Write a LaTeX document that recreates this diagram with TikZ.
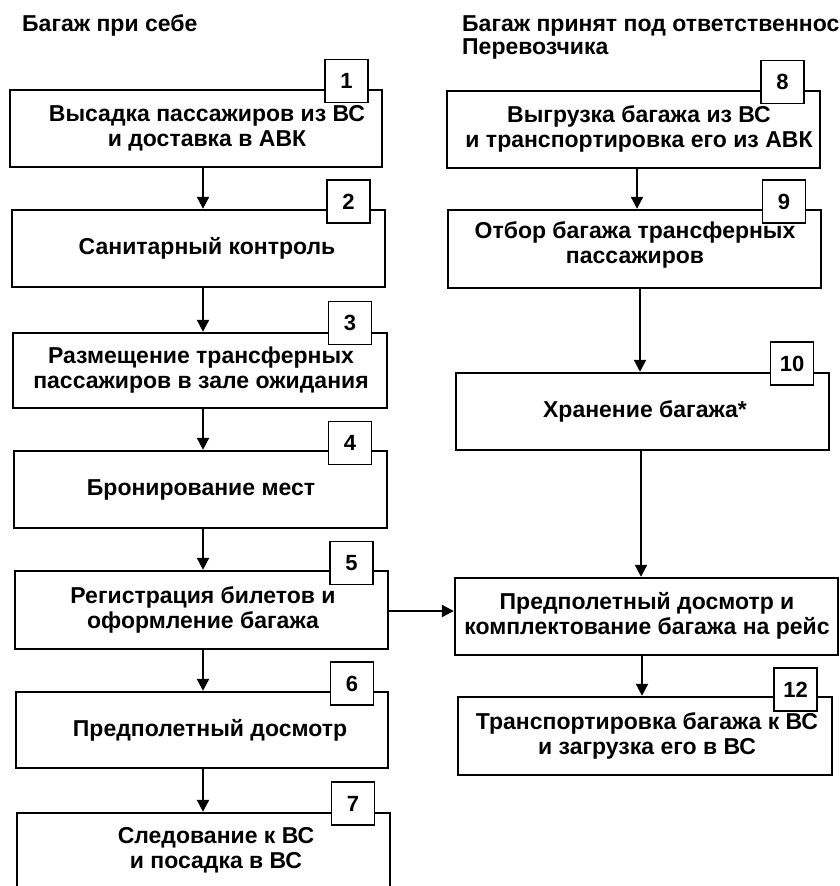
\documentclass[tikz,border=0pt]{standalone}
\usepackage{fontspec}
\setmainfont{Liberation Sans}
\usetikzlibrary{arrows.meta,calc,fit}
\begin{document}
\begin{tikzpicture}[x=1pt,y=-1pt,
  box/.style={draw, line width=2.4pt, rectangle, inner sep=0pt},
  num/.style={draw, fill=white, line width=1.8pt, minimum size=43pt, inner sep=0pt, font=\fontsize{22}{24}\selectfont\bfseries},
  txt/.style={align=center, inner sep=0pt, font=\fontsize{23}{25}\selectfont\bfseries},
  hdr/.style={align=left, inner sep=0pt, font=\fontsize{23}{23}\selectfont\bfseries},
  arr/.style={line width=2.2pt, -{Triangle[length=12pt,width=12pt]}}]
\useasboundingbox (0,0) rectangle (840,886);
\clip (0,0) rectangle (840,886);
\fill[white] (0,0) rectangle (840,886);
% headers
\node[hdr, anchor=base west] (h1) at (22,31) {Багаж при себе};
\node[hdr, anchor=base west] (h2) at (462,31) {Багаж принят под ответственность};
\node[hdr, anchor=base west] (h3) at (462,54) {Перевозчика};
% left column boxes
\node[box, fit={(10,90) (382,167)}] (b1) {};
\node[box, fit={(12,210) (385,287)}] (b2) {};
\node[box, fit={(13,333) (387,408)}] (b3) {};
\node[box, fit={(14,451) (387,528)}] (b4) {};
\node[box, fit={(15,571) (388,649)}] (b5) {};
\node[box, fit={(16,692) (388,768)}] (b6) {};
\node[box, fit={(17,813) (390,900)}] (b7) {};
% right column boxes
\node[box, fit={(447,91) (820,168)}] (b8) {};
\node[box, fit={(448,210) (821,288)}] (b9) {};
\node[box, fit={(456,373) (829,450)}] (b10) {};
\node[box, fit={(455,578) (838,655)}] (b11) {};
\node[box, fit={(458,697) (832,775)}] (b12) {};
% number boxes
\node[num] (n1) at (346.5,81) {1};
\node[num] (n2) at (348.5,201.5) {2};
\node[num] (n3) at (350,323) {3};
\node[num] (n4) at (350,443) {4};
\node[num] (n5) at (351.5,563) {5};
\node[num] (n6) at (352,683.5) {6};
\node[num] (n7) at (353,803.5) {7};
\node[num] (n8) at (782.5,82) {8};
\node[num] (n9) at (784,201.5) {9};
\node[num] (n10) at (792,363.5) {10};
\node[num] (n12) at (795.5,689.5) {12};
% texts
\node[txt] (t1) at (207,128) {Высадка пассажиров из ВС\\и доставка в АВК};
\node[txt] (t2) at (207,248) {Санитарный контроль};
\node[txt] (t3) at (201,370) {Размещение трансферных\\пассажиров в зале ожидания};
\node[txt] (t4) at (201,490) {Бронирование мест};
\node[txt] (t5) at (203,610) {Регистрация билетов и\\оформление багажа};
\node[txt] (t6) at (210,730) {Предполетный досмотр};
\node[txt] (t7) at (216,850) {Следование к ВС\\и посадка в ВС};
\node[txt] (t8) at (639,129) {Выгрузка багажа из ВС\\и транспортировка его из АВК};
\node[txt] (t9) at (635,245) {Отбор багажа трансферных\\пассажиров};
\node[txt] (t10) at (645,411) {Хранение багажа*};
\node[txt] (t11) at (647,616) {Предполетный досмотр и\\комплектование багажа на рейс};
\node[txt] (t12) at (647,736) {Транспортировка багажа к ВС\\и загрузка его в ВС};
% arrow guide coordinates
\coordinate (lx) at (203,0);
\coordinate (rxa) at (637,0);
\coordinate (rxb) at (640,0);
\coordinate (rxc) at (641,0);
\coordinate (rxd) at (642,0);
\coordinate (ay) at (0,611);
% arrows
\draw[arr] (b1.south -| lx) -- (b2.north -| lx);
\draw[arr] (b2.south -| lx) -- (b3.north -| lx);
\draw[arr] (b3.south -| lx) -- (b4.north -| lx);
\draw[arr] (b4.south -| lx) -- (b5.north -| lx);
\draw[arr] (b5.south -| lx) -- (b6.north -| lx);
\draw[arr] (b6.south -| lx) -- (b7.north -| lx);
\draw[arr] (b8.south -| rxa) -- (b9.north -| rxa);
\draw[arr] (b9.south -| rxb) -- (b10.north -| rxb);
\draw[arr] (b10.south -| rxc) -- (b11.north -| rxc);
\draw[arr] (b11.south -| rxd) -- (b12.north -| rxd);
\draw[arr] (b5.east |- ay) -- (b11.west |- ay);
\end{tikzpicture}
\end{document}
